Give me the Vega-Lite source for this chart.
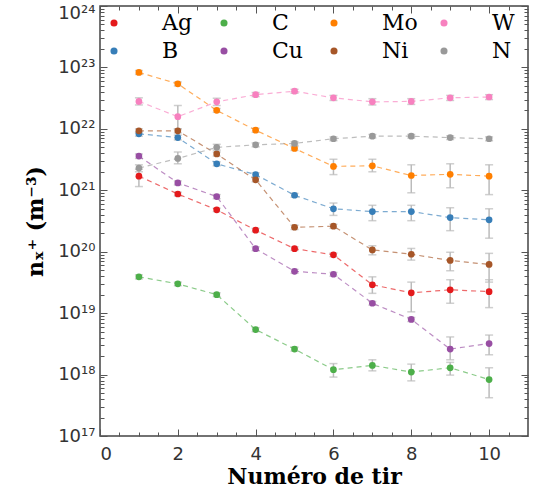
{
  "$schema": "https://vega.github.io/schema/vega-lite/v6.json",
  "autosize": {"type": "none"},
  "width": 428,
  "height": 430,
  "padding": {"left": 100, "top": 6, "right": 9, "bottom": 59},
  "config": {
    "view": {"stroke": "#444", "strokeWidth": 1.5},
    "axis": {"domain": false, "grid": false, "labelFont": "DejaVu Sans", "labelFontSize": 18, "labelColor": "#333", "tickColor": "#555", "tickWidth": 1, "titleFont": "DejaVu Serif", "titleFontWeight": "bold", "titleFontSize": 22, "titleColor": "#000"}
  },
  "datasets": {
    "d": [
      {"el": "Ag", "x": 1, "y": 1.7e21, "lo": 1.15e21, "hi": 2.2e21},
      {"el": "Ag", "x": 2, "y": 8.7e20, "lo": 8.1e20, "hi": 9.3e20},
      {"el": "Ag", "x": 3, "y": 4.8e20, "lo": 4.5e20, "hi": 5.1e20},
      {"el": "Ag", "x": 4, "y": 2.24e20, "lo": 2.1e20, "hi": 2.4e20},
      {"el": "Ag", "x": 5, "y": 1.12e20, "lo": 1.05e20, "hi": 1.2e20},
      {"el": "Ag", "x": 6, "y": 8.9e19, "lo": 8.3e19, "hi": 9.5e19},
      {"el": "Ag", "x": 7, "y": 2.9e19, "lo": 2.1e19, "hi": 3.9e19},
      {"el": "Ag", "x": 8, "y": 2.14e19, "lo": 1.05e19, "hi": 3.2e19},
      {"el": "Ag", "x": 9, "y": 2.4e19, "lo": 1.45e19, "hi": 3.5e19},
      {"el": "Ag", "x": 10, "y": 2.24e19, "lo": 1.23e19, "hi": 3.5e19},
      {"el": "B", "x": 1, "y": 8.3e21, "lo": 7.6e21, "hi": 9.0e21},
      {"el": "B", "x": 2, "y": 7.2e21, "lo": 6.6e21, "hi": 7.9e21},
      {"el": "B", "x": 3, "y": 2.7e21, "lo": 2.5e21, "hi": 2.9e21},
      {"el": "B", "x": 4, "y": 1.8e21, "lo": 1.67e21, "hi": 1.93e21},
      {"el": "B", "x": 5, "y": 8.3e20, "lo": 7.7e20, "hi": 8.9e20},
      {"el": "B", "x": 6, "y": 5.0e20, "lo": 3.9e20, "hi": 6.2e20},
      {"el": "B", "x": 7, "y": 4.5e20, "lo": 3.2e20, "hi": 5.7e20},
      {"el": "B", "x": 8, "y": 4.5e20, "lo": 3.2e20, "hi": 5.7e20},
      {"el": "B", "x": 9, "y": 3.6e20, "lo": 2.2e20, "hi": 5.2e20},
      {"el": "B", "x": 10, "y": 3.3e20, "lo": 1.66e20, "hi": 5.0e20},
      {"el": "C", "x": 1, "y": 3.9e19, "lo": 3.6e19, "hi": 4.2e19},
      {"el": "C", "x": 2, "y": 3.0e19, "lo": 2.8e19, "hi": 3.2e19},
      {"el": "C", "x": 3, "y": 2.0e19, "lo": 1.86e19, "hi": 2.14e19},
      {"el": "C", "x": 4, "y": 5.4e18, "lo": 5.0e18, "hi": 5.8e18},
      {"el": "C", "x": 5, "y": 2.6e18, "lo": 2.4e18, "hi": 2.8e18},
      {"el": "C", "x": 6, "y": 1.2e18, "lo": 9.1e17, "hi": 1.51e18},
      {"el": "C", "x": 7, "y": 1.41e18, "lo": 1.15e18, "hi": 1.74e18},
      {"el": "C", "x": 8, "y": 1.1e18, "lo": 7.9e17, "hi": 1.48e18},
      {"el": "C", "x": 9, "y": 1.29e18, "lo": 9.8e17, "hi": 1.58e18},
      {"el": "C", "x": 10, "y": 8.3e17, "lo": 4.2e17, "hi": 1.29e18},
      {"el": "Cu", "x": 1, "y": 3.6e21, "lo": 3.3e21, "hi": 3.9e21},
      {"el": "Cu", "x": 2, "y": 1.32e21, "lo": 1.22e21, "hi": 1.42e21},
      {"el": "Cu", "x": 3, "y": 7.9e20, "lo": 7.3e20, "hi": 8.5e20},
      {"el": "Cu", "x": 4, "y": 1.12e20, "lo": 1.04e20, "hi": 1.2e20},
      {"el": "Cu", "x": 5, "y": 4.8e19, "lo": 4.45e19, "hi": 5.15e19},
      {"el": "Cu", "x": 6, "y": 4.3e19, "lo": 4.0e19, "hi": 4.6e19},
      {"el": "Cu", "x": 7, "y": 1.45e19, "lo": 1.35e19, "hi": 1.55e19},
      {"el": "Cu", "x": 8, "y": 7.9e18, "lo": 7.3e18, "hi": 8.5e18},
      {"el": "Cu", "x": 9, "y": 2.6e18, "lo": 1.74e18, "hi": 4.1e18},
      {"el": "Cu", "x": 10, "y": 3.2e18, "lo": 2.1e18, "hi": 4.4e18},
      {"el": "Mo", "x": 1, "y": 8.3e22, "lo": 7.7e22, "hi": 8.9e22},
      {"el": "Mo", "x": 2, "y": 5.4e22, "lo": 5.0e22, "hi": 5.8e22},
      {"el": "Mo", "x": 3, "y": 2.0e22, "lo": 1.86e22, "hi": 2.14e22},
      {"el": "Mo", "x": 4, "y": 9.5e21, "lo": 8.8e21, "hi": 1.02e22},
      {"el": "Mo", "x": 5, "y": 4.8e21, "lo": 4.45e21, "hi": 5.15e21},
      {"el": "Mo", "x": 6, "y": 2.45e21, "lo": 1.8e21, "hi": 3.2e21},
      {"el": "Mo", "x": 7, "y": 2.5e21, "lo": 2.0e21, "hi": 3.2e21},
      {"el": "Mo", "x": 8, "y": 1.74e21, "lo": 9.1e20, "hi": 2.6e21},
      {"el": "Mo", "x": 9, "y": 1.82e21, "lo": 1.1e21, "hi": 2.7e21},
      {"el": "Mo", "x": 10, "y": 1.7e21, "lo": 8.5e20, "hi": 2.6e21},
      {"el": "Ni", "x": 1, "y": 9.3e21, "lo": 8.6e21, "hi": 1.0e22},
      {"el": "Ni", "x": 2, "y": 9.3e21, "lo": 8.6e21, "hi": 1.0e22},
      {"el": "Ni", "x": 3, "y": 3.9e21, "lo": 3.6e21, "hi": 4.2e21},
      {"el": "Ni", "x": 4, "y": 1.48e21, "lo": 1.37e21, "hi": 1.59e21},
      {"el": "Ni", "x": 5, "y": 2.5e20, "lo": 2.3e20, "hi": 2.7e20},
      {"el": "Ni", "x": 6, "y": 2.6e20, "lo": 2.4e20, "hi": 2.8e20},
      {"el": "Ni", "x": 7, "y": 1.07e20, "lo": 8.9e19, "hi": 1.25e20},
      {"el": "Ni", "x": 8, "y": 9.1e19, "lo": 7.3e19, "hi": 1.13e20},
      {"el": "Ni", "x": 9, "y": 7.2e19, "lo": 4.9e19, "hi": 9.8e19},
      {"el": "Ni", "x": 10, "y": 6.2e19, "lo": 3.2e19, "hi": 9.4e19},
      {"el": "W", "x": 1, "y": 2.8e22, "lo": 2.45e22, "hi": 3.2e22},
      {"el": "W", "x": 2, "y": 1.58e22, "lo": 1.0e22, "hi": 2.4e22},
      {"el": "W", "x": 3, "y": 2.75e22, "lo": 2.4e22, "hi": 3.15e22},
      {"el": "W", "x": 4, "y": 3.6e22, "lo": 3.35e22, "hi": 3.9e22},
      {"el": "W", "x": 5, "y": 4.1e22, "lo": 3.8e22, "hi": 4.4e22},
      {"el": "W", "x": 6, "y": 3.2e22, "lo": 2.9e22, "hi": 3.5e22},
      {"el": "W", "x": 7, "y": 2.75e22, "lo": 2.45e22, "hi": 3.1e22},
      {"el": "W", "x": 8, "y": 2.8e22, "lo": 2.5e22, "hi": 3.1e22},
      {"el": "W", "x": 9, "y": 3.2e22, "lo": 2.9e22, "hi": 3.5e22},
      {"el": "W", "x": 10, "y": 3.3e22, "lo": 3.0e22, "hi": 3.6e22},
      {"el": "N", "x": 1, "y": 2.3e21, "lo": 2.0e21, "hi": 2.6e21},
      {"el": "N", "x": 2, "y": 3.3e21, "lo": 2.7e21, "hi": 4.2e21},
      {"el": "N", "x": 3, "y": 5.0e21, "lo": 4.5e21, "hi": 5.6e21},
      {"el": "N", "x": 4, "y": 5.5e21, "lo": 5.1e21, "hi": 5.9e21},
      {"el": "N", "x": 5, "y": 5.8e21, "lo": 5.4e21, "hi": 6.2e21},
      {"el": "N", "x": 6, "y": 6.9e21, "lo": 6.4e21, "hi": 7.4e21},
      {"el": "N", "x": 7, "y": 7.6e21, "lo": 7.1e21, "hi": 8.1e21},
      {"el": "N", "x": 8, "y": 7.6e21, "lo": 7.1e21, "hi": 8.1e21},
      {"el": "N", "x": 9, "y": 7.2e21, "lo": 6.7e21, "hi": 7.7e21},
      {"el": "N", "x": 10, "y": 6.9e21, "lo": 6.4e21, "hi": 7.4e21}
    ]
  },
  "data": {"name": "d"},
  "resolve": {"axis": {"x": "independent", "y": "independent"}},
  "layer": [
    {
      "mark": {"type": "rule", "color": "#bbbbbb", "strokeWidth": 1.5},
      "encoding": {
        "x": {"field": "x", "type": "quantitative", "scale": {"domain": [0, 11], "nice": false},
              "axis": {"orient": "bottom", "values": [0.5, 1, 1.5, 2.5, 3, 3.5, 4.5, 5, 5.5, 6.5, 7, 7.5, 8.5, 9, 9.5, 10.5], "labels": false, "tickSize": 4, "offset": -4, "title": null}},
        "y": {"field": "lo", "type": "quantitative", "scale": {"type": "log", "domain": [1e17, 1e24], "nice": false},
              "axis": {"orient": "left", "labels": false, "tickSize": 4, "offset": -4, "title": null,
                "values": [2e17,3e17,4e17,5e17,6e17,7e17,8e17,9e17,2e18,3e18,4e18,5e18,6e18,7e18,8e18,9e18,2e19,3e19,4e19,5e19,6e19,7e19,8e19,9e19,2e20,3e20,4e20,5e20,6e20,7e20,8e20,9e20,2e21,3e21,4e21,5e21,6e21,7e21,8e21,9e21,2e22,3e22,4e22,5e22,6e22,7e22,8e22,9e22,2e23,3e23,4e23,5e23,6e23,7e23,8e23,9e23]}},
        "y2": {"field": "hi"}
      }
    },
    {
      "mark": {"type": "tick", "orient": "horizontal", "color": "#bbbbbb", "size": 8, "thickness": 1.5},
      "encoding": {
        "x": {"field": "x", "type": "quantitative",
              "axis": {"orient": "top", "values": [0.5, 1, 1.5, 2.5, 3, 3.5, 4.5, 5, 5.5, 6.5, 7, 7.5, 8.5, 9, 9.5, 10.5], "labels": false, "tickSize": 4, "offset": -4, "title": null}},
        "y": {"field": "lo", "type": "quantitative",
              "axis": {"orient": "right", "labels": false, "tickSize": 4, "offset": -4, "title": null,
                "values": [2e17,3e17,4e17,5e17,6e17,7e17,8e17,9e17,2e18,3e18,4e18,5e18,6e18,7e18,8e18,9e18,2e19,3e19,4e19,5e19,6e19,7e19,8e19,9e19,2e20,3e20,4e20,5e20,6e20,7e20,8e20,9e20,2e21,3e21,4e21,5e21,6e21,7e21,8e21,9e21,2e22,3e22,4e22,5e22,6e22,7e22,8e22,9e22,2e23,3e23,4e23,5e23,6e23,7e23,8e23,9e23]}}
      }
    },
    {
      "mark": {"type": "tick", "orient": "horizontal", "color": "#bbbbbb", "size": 8, "thickness": 1.5},
      "encoding": {
        "x": {"field": "x", "type": "quantitative", "axis": null},
        "y": {"field": "hi", "type": "quantitative", "axis": null}
      }
    },
    {
      "mark": {"type": "line", "strokeDash": [5, 4], "strokeWidth": 1.2, "strokeOpacity": 0.65},
      "encoding": {
        "x": {"field": "x", "type": "quantitative", "axis": {"orient": "top", "labels": false, "tickSize": 7, "offset": -7, "title": null, "values": [0, 2, 4, 6, 8, 10]}},
        "y": {"field": "y", "type": "quantitative", "axis": {"orient": "right", "labels": false, "tickSize": 7, "offset": -7, "title": null, "values": [1e17,1e18,1e19,1e20,1e21,1e22,1e23,1e24]}},
        "color": {"field": "el", "type": "nominal"}
      }
    },
    {
      "mark": {"type": "circle", "size": 45, "opacity": 1},
      "encoding": {
        "x": {"field": "x", "type": "quantitative", "axis": {"orient": "bottom", "values": [0, 2, 4, 6, 8, 10], "tickSize": 7, "offset": -7, "labelPadding": 9, "title": "Numéro de tir", "titlePadding": 3}},
        "y": {"field": "y", "type": "quantitative",
              "axis": {"orient": "left", "values": [1e17,1e18,1e19,1e20,1e21,1e22,1e23,1e24], "tickSize": 7, "offset": -7, "labelPadding": 5, "title": "nₓ⁺ (m⁻³)", "titlePadding": 10,
                "labelOffset": {"condition": {"test": "datum.value > 5e23", "value": 7}, "value": 0},
                "labelExpr": "'10' + replace(replace(replace(replace(replace(replace(replace(replace(replace(replace(format(round(log(datum.value)/LN10), 'd'), regexp('0','g'), '⁰'), regexp('1','g'), '¹'), regexp('2','g'), '²'), regexp('3','g'), '³'), regexp('4','g'), '⁴'), regexp('5','g'), '⁵'), regexp('6','g'), '⁶'), regexp('7','g'), '⁷'), regexp('8','g'), '⁸'), regexp('9','g'), '⁹')"}},
        "color": {"field": "el", "type": "nominal",
          "scale": {"domain": ["Ag", "B", "C", "Cu", "Mo", "Ni", "W", "N"], "range": ["#e41a1c", "#377eb8", "#4daf4a", "#984ea3", "#ff7f00", "#a65628", "#f781bf", "#999999"]},
          "legend": {"orient": "none", "direction": "vertical", "legendX": 3, "legendY": 6, "padding": 0, "columns": 4, "title": null, "gridAlign": "all", "columnPadding": 15, "rowPadding": 6,
            "symbolType": "circle", "symbolSize": 50, "symbolOpacity": 1, "symbolStrokeWidth": 0, "labelOffset": 37, "labelFont": "DejaVu Serif", "labelFontSize": 22, "labelColor": "#000"}}
      }
    }
  ]
}
